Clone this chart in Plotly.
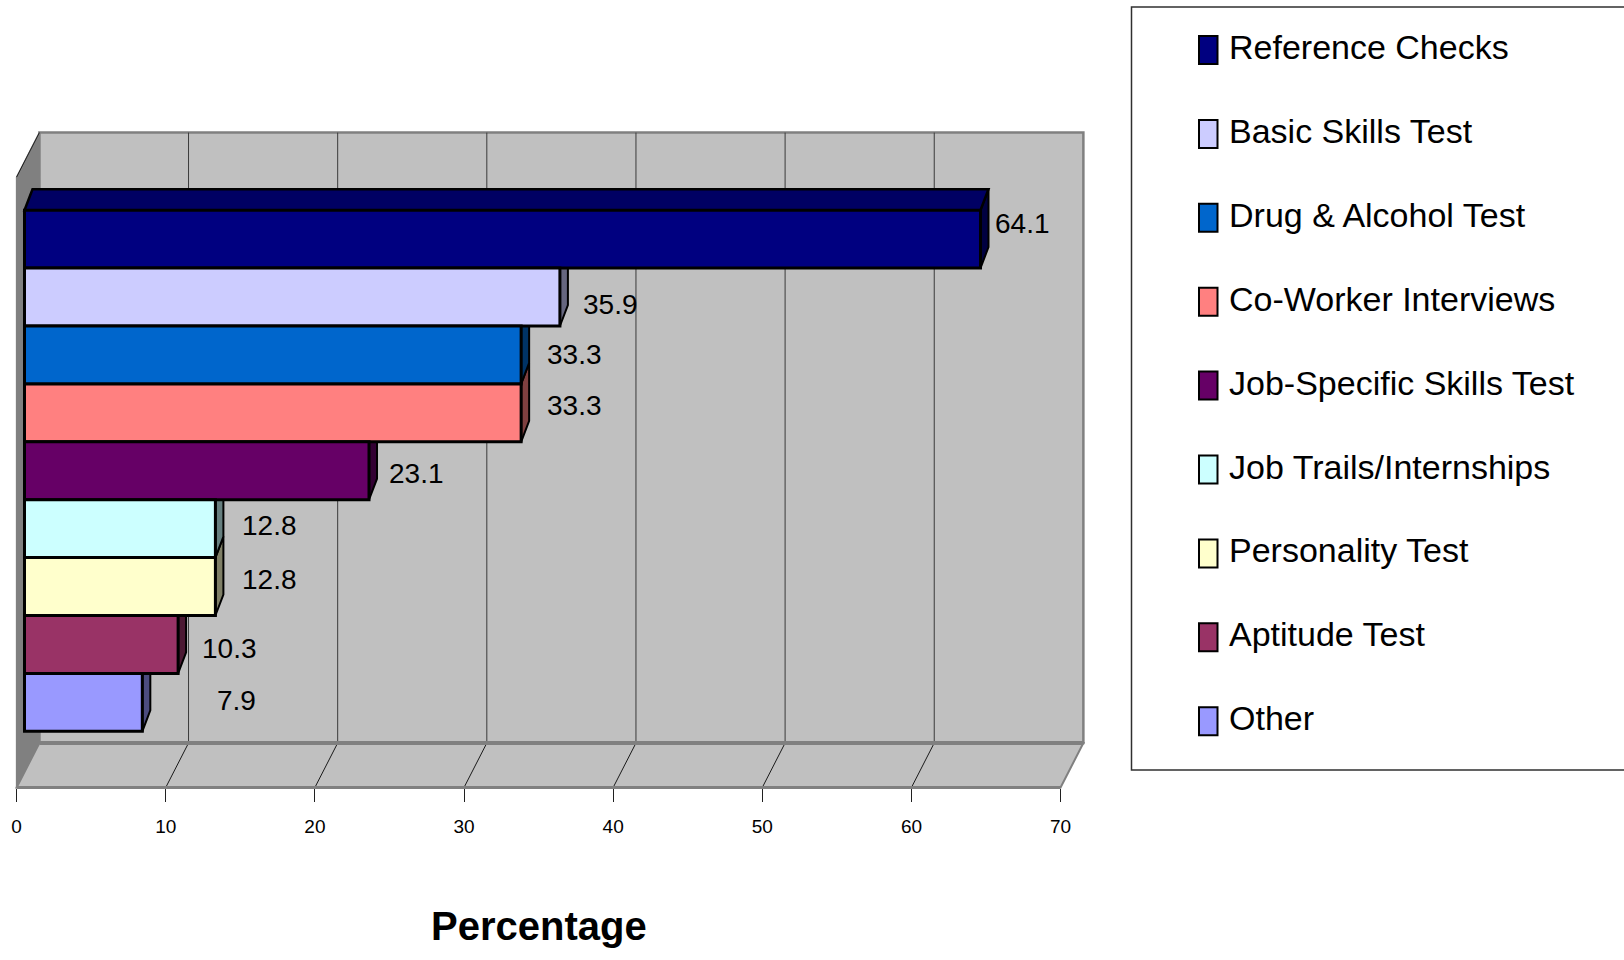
import plotly.graph_objects as go

# ---- data -------------------------------------------------------------
categories = [
    "Reference Checks",
    "Basic Skills Test",
    "Drug & Alcohol Test",
    "Co-Worker Interviews",
    "Job-Specific Skills Test",
    "Job Trails/Internships",
    "Personality Test",
    "Aptitude Test",
    "Other",
]
percentages = [64.1, 35.9, 33.3, 33.3, 23.1, 12.8, 12.8, 10.3, 7.9]
tick_values = [0, 10, 20, 30, 40, 50, 60, 70]
axis_title = "Percentage"

# ---- style ------------------------------------------------------------
face_colors = ["#000080", "#CCCCFF", "#0066CC", "#FF8080", "#660066",
               "#CCFFFF", "#FFFFCC", "#993366", "#9999FF"]
# per-label nudges (pixels) for the value labels
label_dx = [42, 51, 53, 53, 47, 54, 54, 51, 94]
label_dy = [16, -7, 0, 7, -3, 3, 7, -4, 2]

FONT = "Liberation Sans, Arial, sans-serif"

W, H = 1624, 960
S = 14.914            # pixels per percentage point
AXIS_X0 = 16.6        # front-axis zero
BAR_X0 = 24.5         # bar-plane zero
BAR_TOP = 210.2       # top of first bar
BAR_H = 57.9          # height of one bar slot
WALL_TOP = 132.6
FLOOR_FRONT = 787.5
FLOOR_BACK = 743.0
DEPTH_DX = 22.8
BAR_DX, BAR_DY = 8.0, 21.0


def shade(hex_color, k):
    h = hex_color.lstrip("#")
    r, g, b = (int(h[i:i + 2], 16) for i in (0, 2, 4))
    return "#%02X%02X%02X" % (int(r * k), int(g * k), int(b * k))


def px(x):
    return x / W


def py(y):
    return 1 - y / H


def poly(points):
    return "M " + " L ".join(f"{x},{y}" for x, y in points) + " Z"


def seg(x0, y0, x1, y1, color, width):
    return dict(type="line", xref="paper", yref="paper", layer="below",
                x0=px(x0), x1=px(x1), y0=py(y0), y1=py(y1),
                line=dict(color=color, width=width))


shapes = []
LEFT_TOP = WALL_TOP + (FLOOR_FRONT - FLOOR_BACK)
BACK_X0 = AXIS_X0 + DEPTH_DX
BACK_X1 = AXIS_X0 + DEPTH_DX + 70 * S

# back wall
shapes.append(dict(type="rect", xref="paper", yref="paper", layer="below",
                   x0=px(BACK_X0), x1=px(BACK_X1), y0=py(FLOOR_BACK), y1=py(WALL_TOP),
                   fillcolor="#C0C0C0", line=dict(color="#808080", width=2.5)))
# left side wall
left_pts = [(px(AXIS_X0), py(LEFT_TOP)), (px(BACK_X0), py(WALL_TOP)),
            (px(BACK_X0), py(FLOOR_BACK)), (px(AXIS_X0), py(FLOOR_FRONT))]
shapes.append(dict(type="path", xref="paper", yref="paper", layer="below",
                   path=poly(left_pts), fillcolor="#808080",
                   line=dict(color="#808080", width=1.5)))
shapes.append(seg(AXIS_X0, LEFT_TOP, BACK_X0, WALL_TOP, "#202020", 1))
# floor
floor_pts = [(px(AXIS_X0), py(FLOOR_FRONT)), (px(BACK_X0), py(FLOOR_BACK)),
             (px(BACK_X1), py(FLOOR_BACK)), (px(AXIS_X0 + 70 * S), py(FLOOR_FRONT))]
shapes.append(dict(type="path", xref="paper", yref="paper", layer="below",
                   path=poly(floor_pts), fillcolor="#C0C0C0",
                   line=dict(color="#808080", width=2)))

# gridlines on back wall and floor
for v in tick_values[1:-1]:
    xb = BACK_X0 + v * S
    xf = AXIS_X0 + v * S
    shapes.append(seg(xb, FLOOR_BACK, xb, WALL_TOP, "#3A3A3A", 1))
    shapes.append(seg(xf, FLOOR_FRONT, xb, FLOOR_BACK, "#1A1A1A", 1))
# heavier floor edges
shapes.append(seg(BACK_X0, FLOOR_BACK, BACK_X1, FLOOR_BACK, "#808080", 4))
shapes.append(seg(AXIS_X0, FLOOR_FRONT, AXIS_X0 + 70 * S, FLOOR_FRONT, "#808080", 3))

# 3D faces of the bars (data units)
DXu = BAR_DX / S
DYu = BAR_DY / BAR_H
n = len(percentages)
for i in reversed(range(n)):
    v = percentages[i]
    side = [(v, i + 0.5), (v, i - 0.5), (v + DXu, i - 0.5 - DYu), (v + DXu, i + 0.5 - DYu)]
    shapes.append(dict(type="path", xref="x", yref="y", layer="below",
                       path=poly(side), fillcolor=shade(face_colors[i], 0.5),
                       line=dict(color="black", width=2)))
top = [(0, -0.5), (DXu, -0.5 - DYu), (percentages[0] + DXu, -0.5 - DYu), (percentages[0], -0.5)]
shapes.append(dict(type="path", xref="x", yref="y", layer="below",
                   path=poly(top), fillcolor=shade(face_colors[0], 0.78),
                   line=dict(color="black", width=2.5)))

# legend box
LEG_X0, LEG_Y0, LEG_Y1 = 1131.5, 7.0, 770.0
shapes.append(dict(type="rect", xref="paper", yref="paper", layer="above",
                   x0=px(LEG_X0), x1=px(W + 5), y0=py(LEG_Y1), y1=py(LEG_Y0),
                   fillcolor="rgba(0,0,0,0)", line=dict(color="#303030", width=1.5)))

annotations = []
LEG_ROW0, LEG_STEP = 50.0, 83.9
for k, (name, col) in enumerate(zip(categories, face_colors)):
    yc = LEG_ROW0 + k * LEG_STEP
    shapes.append(dict(type="rect", xref="paper", yref="paper", layer="above",
                       x0=px(1199), x1=px(1217.5), y0=py(yc + 14), y1=py(yc - 14),
                       fillcolor=col, line=dict(color="black", width=2)))
    annotations.append(dict(xref="paper", yref="paper", x=px(1227), y=py(yc - 3),
                            xanchor="left", yanchor="middle", text=name, showarrow=False,
                            font=dict(family=FONT, size=34, color="black")))

# value labels
for i, v in enumerate(percentages):
    annotations.append(dict(xref="x", yref="y", x=v, y=i, xshift=label_dx[i], yshift=label_dy[i],
                            xanchor="center", yanchor="middle", text=f"{v}", showarrow=False,
                            font=dict(family=FONT, size=28, color="black")))

# axis title
annotations.append(dict(xref="paper", yref="paper", x=px(AXIS_X0 + 35 * S), y=py(926),
                        xanchor="center", yanchor="middle", text=f"<b>{axis_title}</b>",
                        showarrow=False, font=dict(family=FONT, size=40, color="black")))

fig = go.Figure()
fig.add_trace(go.Bar(
    x=percentages, y=list(range(n)), orientation="h", width=1,
    marker=dict(color=face_colors, line=dict(color="black", width=3)),
    showlegend=False, hoverinfo="skip", cliponaxis=False,
))
# carrier for the labelled front axis
fig.add_trace(go.Scatter(x=[tick_values[0], tick_values[-1]], y=[0, 0], xaxis="x2",
                         mode="none", showlegend=False, hoverinfo="skip"))

fig.update_layout(
    width=W, height=H,
    margin=dict(l=0, r=0, t=0, b=0),
    paper_bgcolor="white", plot_bgcolor="rgba(0,0,0,0)",
    showlegend=False,
    shapes=shapes, annotations=annotations,
    xaxis=dict(range=[(0 - BAR_X0) / S, (W - BAR_X0) / S], visible=False, fixedrange=True),
    yaxis=dict(range=[(H - BAR_TOP) / BAR_H - 0.5, (0 - BAR_TOP) / BAR_H - 0.5],
               visible=False, fixedrange=True),
    xaxis2=dict(range=[(0 - AXIS_X0) / S, (W - AXIS_X0) / S], overlaying="x",
                anchor="free", position=py(FLOOR_FRONT), side="bottom",
                tickvals=tick_values, ticks="outside", ticklen=13, tickwidth=1,
                tickcolor="#202020", showline=False, showgrid=False, zeroline=False,
                ticklabelstandoff=9,
                tickfont=dict(family=FONT, size=19, color="black"), fixedrange=True),
)

fig.write_html("out.html")
